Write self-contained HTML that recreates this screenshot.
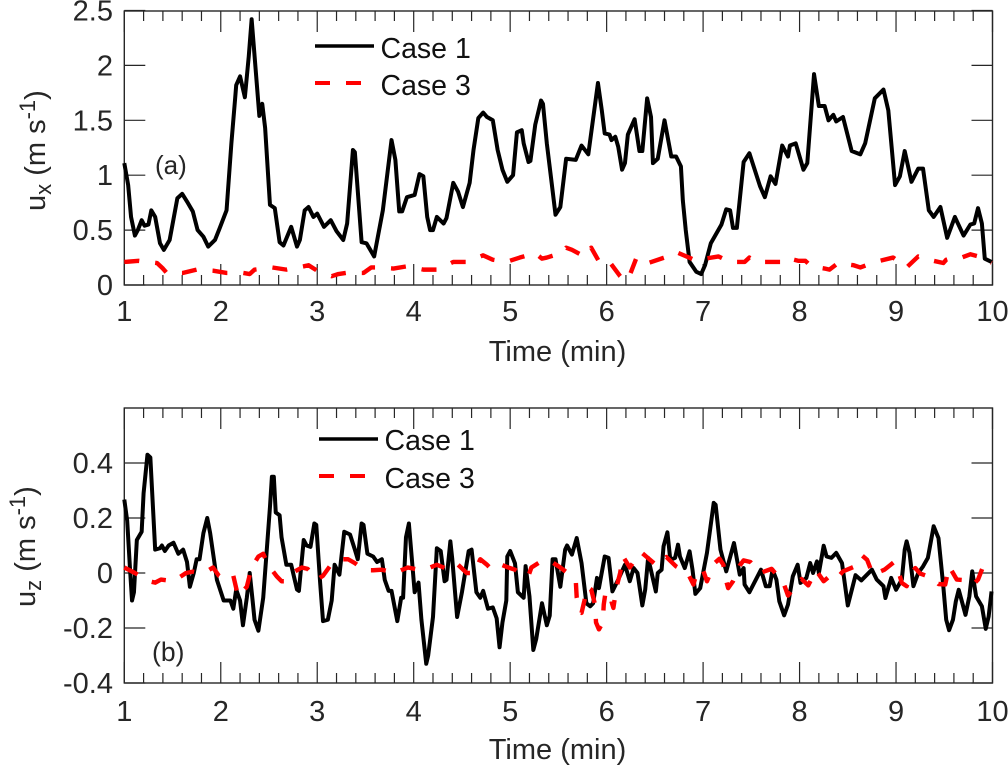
<!DOCTYPE html>
<html lang="en">
<head>
<meta charset="utf-8">
<title>Velocity time series</title>
<style>
html,body{margin:0;padding:0;background:#fff;}
svg{display:block;font-family:"Liberation Sans",Arial,sans-serif;}
text{fill:#262626;}
</style>
</head>
<body>
<svg id="chart" width="1008" height="766" viewBox="0 0 1008 766" xmlns="http://www.w3.org/2000/svg">
<g id="panelA"></g>
<g id="panelB"></g>

<text transform="translate(45,211) rotate(-90)" font-size="29">u<tspan font-size="22" dy="6">x</tspan><tspan dy="-6"> (m s</tspan><tspan font-size="22" dy="-10">-1</tspan><tspan dy="10">)</tspan></text>
<text x="557.5" y="361" font-size="29" text-anchor="middle">Time (min)</text>
<text x="155" y="174" font-size="26">(a)</text>
<line x1="315" x2="374" y1="46" y2="46" stroke="#000" stroke-width="3.5"/>
<text x="380.5" y="58" font-size="28.5" style="fill:#111">Case 1</text>
<line x1="315" x2="374" y1="83" y2="83" stroke="#f00" stroke-width="4" stroke-dasharray="15 16"/>
<text x="380.5" y="95" font-size="28.5" style="fill:#111">Case 3</text>

<text transform="translate(35,607) rotate(-90)" font-size="29">u<tspan font-size="22" dy="6">z</tspan><tspan dy="-6"> (m s</tspan><tspan font-size="22" dy="-10">-1</tspan><tspan dy="10">)</tspan></text>
<text x="557.5" y="759" font-size="29" text-anchor="middle">Time (min)</text>
<text x="152" y="661" font-size="26.5">(b)</text>
<line x1="319" x2="378" y1="439" y2="439" stroke="#000" stroke-width="3.5"/>
<text x="384.5" y="450" font-size="28.5" style="fill:#111">Case 1</text>
<line x1="319" x2="378" y1="476" y2="476" stroke="#f00" stroke-width="4" stroke-dasharray="15 16"/>
<text x="384.5" y="488" font-size="28.5" style="fill:#111">Case 3</text>
</svg>
<script>
const xMajorTicks = [1,2,3,4,5,6,7,8,9,10];
const yTicksA = [0,0.5,1,1.5,2,2.5];
const yTickLabelsA = ['0','0.5','1','1.5','2','2.5'];
const yTicksB = [-0.4,-0.2,0,0.2,0.4];
const yTickLabelsB = ['-0.4','-0.2','0','0.2','0.4'];

const timeA1 = [1.00,1.04,1.07,1.11,1.14,1.18,1.21,1.25,1.28,1.32,1.37,1.41,1.47,1.55,1.60,1.65,1.71,1.76,1.82,1.87,1.94,1.99,2.06,2.11,2.15,2.16,2.20,2.25,2.29,2.32,2.34,2.40,2.43,2.46,2.51,2.56,2.61,2.65,2.73,2.79,2.82,2.87,2.91,2.96,3.00,3.07,3.14,3.20,3.27,3.31,3.37,3.39,3.46,3.51,3.59,3.68,3.77,3.81,3.85,3.88,3.93,4.01,4.06,4.10,4.14,4.17,4.20,4.24,4.31,4.34,4.41,4.46,4.51,4.58,4.62,4.67,4.72,4.76,4.82,4.87,4.92,4.97,5.03,5.07,5.12,5.14,5.19,5.21,5.26,5.32,5.34,5.38,5.43,5.47,5.52,5.58,5.68,5.74,5.81,5.91,5.95,5.98,6.03,6.05,6.09,6.12,6.16,6.19,6.22,6.29,6.34,6.37,6.42,6.46,6.48,6.53,6.60,6.67,6.72,6.77,6.79,6.82,6.86,6.93,6.98,7.02,7.08,7.19,7.24,7.28,7.31,7.35,7.42,7.48,7.59,7.64,7.70,7.75,7.82,7.88,7.90,7.96,8.04,8.08,8.15,8.20,8.26,8.30,8.35,8.38,8.45,8.54,8.63,8.68,8.78,8.87,8.92,8.99,9.04,9.09,9.16,9.23,9.28,9.34,9.39,9.46,9.53,9.61,9.70,9.77,9.81,9.85,9.89,9.92,9.99];
const uxCase1 = [1.11,0.91,0.62,0.45,0.50,0.59,0.54,0.55,0.68,0.62,0.38,0.32,0.41,0.79,0.83,0.76,0.67,0.50,0.44,0.35,0.41,0.52,0.68,1.29,1.71,1.82,1.90,1.71,2.08,2.42,2.20,1.54,1.65,1.43,0.73,0.70,0.39,0.36,0.53,0.35,0.41,0.68,0.71,0.62,0.65,0.53,0.59,0.49,0.41,0.56,1.23,1.21,0.39,0.38,0.26,0.68,1.32,1.14,0.67,0.67,0.80,0.82,1.01,0.99,0.62,0.50,0.50,0.62,0.56,0.61,0.93,0.85,0.71,0.93,1.23,1.52,1.57,1.53,1.50,1.23,1.05,0.94,1.00,1.39,1.41,1.29,1.12,1.13,1.46,1.68,1.65,1.29,0.93,0.64,0.71,1.15,1.14,1.27,1.19,1.84,1.59,1.38,1.37,1.32,1.35,1.26,1.05,1.11,1.37,1.51,1.22,1.22,1.70,1.53,1.11,1.15,1.50,1.17,1.17,1.08,0.77,0.50,0.21,0.12,0.10,0.18,0.38,0.55,0.69,0.68,0.52,0.52,1.12,1.20,0.90,0.80,0.99,0.92,1.27,1.17,1.27,1.29,1.05,1.11,1.92,1.63,1.63,1.50,1.55,1.49,1.53,1.22,1.19,1.29,1.70,1.78,1.59,0.91,0.99,1.22,0.94,1.06,1.06,0.68,0.62,0.71,0.43,0.62,0.45,0.55,0.56,0.70,0.56,0.24,0.21];

const timeA3 = [1.00,1.15,1.34,1.40,1.44,1.61,1.75,1.92,2.06,2.23,2.30,2.35,2.53,2.68,2.86,2.91,3.00,3.15,3.22,3.30,3.48,3.56,3.62,3.79,3.93,4.10,4.25,4.41,4.55,4.72,4.82,4.96,5.10,5.26,5.33,5.38,5.53,5.58,5.64,5.77,5.84,5.93,6.03,6.14,6.19,6.24,6.31,6.43,6.60,6.72,6.88,6.93,7.02,7.16,7.28,7.43,7.48,7.55,7.71,7.80,7.85,7.99,8.06,8.12,8.26,8.31,8.40,8.56,8.63,8.69,8.83,8.97,9.11,9.23,9.39,9.49,9.52,9.63,9.68,9.77,9.90,9.99];
const uxCase3 = [0.21,0.22,0.20,0.15,0.11,0.11,0.14,0.13,0.11,0.11,0.10,0.14,0.16,0.14,0.17,0.18,0.13,0.08,0.10,0.11,0.11,0.16,0.16,0.15,0.17,0.14,0.14,0.21,0.21,0.27,0.23,0.21,0.25,0.29,0.24,0.25,0.29,0.34,0.32,0.26,0.34,0.20,0.21,0.08,0.04,0.09,0.25,0.20,0.25,0.30,0.24,0.22,0.24,0.26,0.21,0.21,0.25,0.21,0.21,0.21,0.25,0.22,0.22,0.17,0.15,0.14,0.20,0.18,0.16,0.18,0.22,0.25,0.16,0.26,0.22,0.20,0.23,0.26,0.25,0.28,0.25,0.20];

const timeB1 = [1.00,1.03,1.06,1.08,1.10,1.13,1.18,1.20,1.24,1.27,1.32,1.37,1.39,1.42,1.46,1.51,1.56,1.61,1.65,1.68,1.72,1.75,1.78,1.82,1.86,1.89,1.96,2.03,2.10,2.13,2.16,2.20,2.23,2.27,2.30,2.33,2.35,2.39,2.44,2.51,2.53,2.55,2.57,2.61,2.63,2.68,2.73,2.79,2.81,2.86,2.89,2.93,2.97,2.99,3.03,3.06,3.11,3.15,3.18,3.23,3.28,3.34,3.39,3.42,3.46,3.48,3.52,3.58,3.62,3.67,3.70,3.74,3.77,3.83,3.87,3.89,3.92,3.95,4.01,4.05,4.08,4.13,4.15,4.20,4.24,4.28,4.32,4.34,4.38,4.40,4.45,4.50,4.57,4.60,4.65,4.69,4.72,4.77,4.82,4.86,4.89,4.92,4.96,4.97,5.00,5.05,5.08,5.14,5.16,5.20,5.24,5.27,5.33,5.38,5.41,5.44,5.47,5.52,5.57,5.59,5.64,5.69,5.74,5.79,5.83,5.86,5.90,5.92,5.98,6.02,6.06,6.12,6.19,6.24,6.28,6.32,6.37,6.40,6.43,6.51,6.53,6.57,6.59,6.63,6.66,6.71,6.74,6.76,6.81,6.86,6.89,6.92,6.97,7.04,7.11,7.13,7.18,7.24,7.32,7.38,7.42,7.43,7.48,7.60,7.65,7.69,7.72,7.76,7.79,7.84,7.88,7.93,7.98,8.01,8.07,8.11,8.14,8.18,8.20,8.25,8.28,8.33,8.38,8.44,8.50,8.58,8.64,8.75,8.80,8.87,8.89,8.95,9.00,9.06,9.09,9.11,9.14,9.18,9.23,9.28,9.33,9.39,9.44,9.49,9.52,9.55,9.59,9.62,9.65,9.72,9.76,9.79,9.83,9.89,9.93,9.96,9.99];
const uzCase1 = [0.267,0.19,0.01,-0.10,-0.07,0.12,0.15,0.29,0.43,0.42,0.085,0.09,0.10,0.08,0.10,0.11,0.07,0.085,0.04,-0.05,0,0.05,0.05,0.145,0.20,0.145,-0.025,-0.10,-0.10,-0.13,-0.06,-0.10,-0.19,-0.09,0,-0.10,-0.17,-0.21,-0.09,0.24,0.35,0.35,0.22,0.21,0.13,0.03,0.03,-0.06,-0.065,0.12,0.10,0.095,0.18,0.175,-0.035,-0.175,-0.17,-0.10,0.03,-0.006,0.15,0.14,0.085,0.05,0.18,0.175,0.07,0.06,0.04,0.05,-0.025,-0.065,-0.065,-0.175,-0.09,-0.09,0.13,0.18,-0.07,-0.035,-0.17,-0.33,-0.30,-0.16,0.09,0.08,-0.03,-0.025,0.115,0.05,-0.16,-0.07,0.08,0.085,-0.07,-0.09,-0.065,-0.13,-0.125,-0.165,-0.27,-0.18,-0.10,0.06,0.08,0.035,-0.07,-0.09,0.025,-0.085,-0.28,-0.24,-0.11,-0.19,-0.155,0.05,0.05,-0.05,0.085,0.10,0.067,0.127,0.036,-0.11,-0.121,-0.11,-0.018,-0.055,0.06,0.055,-0.067,-0.024,0.03,-0.03,0.018,0,-0.118,-0.06,0.055,-0.067,0,0.012,0.097,0.148,0.048,0.055,0.103,0.06,0.018,0.079,0.012,-0.076,-0.055,0.073,0.255,0.248,0.085,0.006,0.109,-0.006,0.018,-0.042,-0.07,0.012,-0.048,-0.048,0.012,-0.024,-0.103,-0.154,-0.115,-0.012,0.03,-0.036,-0.018,0.036,0,0.042,0,0.099,0.06,0.055,0.073,0.036,-0.118,-0.008,-0.027,0.012,-0.024,-0.048,-0.091,-0.018,-0.061,-0.024,0.085,0.115,0.073,-0.048,0,0.024,0.055,0.17,0.127,-0.048,-0.17,-0.208,-0.17,-0.103,-0.061,-0.152,-0.085,0.006,-0.085,-0.121,-0.203,-0.158,-0.067];

const timeB3 = [1.00,1.11,1.26,1.32,1.38,1.51,1.64,1.71,1.78,1.85,1.92,1.98,2.04,2.13,2.18,2.27,2.32,2.39,2.44,2.49,2.58,2.63,2.68,2.77,2.84,2.90,3.00,3.06,3.13,3.24,3.32,3.39,3.49,3.58,3.67,3.81,3.87,3.94,4.08,4.17,4.24,4.38,4.42,4.46,4.55,4.63,4.69,4.76,4.81,4.91,4.98,5.05,5.15,5.19,5.22,5.31,5.41,5.52,5.58,5.68,5.69,5.72,5.74,5.77,5.80,5.84,5.88,5.89,5.92,5.96,5.97,5.99,6.03,6.07,6.10,6.14,6.17,6.24,6.30,6.36,6.41,6.52,6.62,6.72,6.84,6.90,6.94,7.00,7.04,7.12,7.17,7.21,7.24,7.26,7.31,7.38,7.42,7.49,7.59,7.71,7.83,7.88,7.98,8.02,8.09,8.17,8.25,8.33,8.39,8.45,8.56,8.61,8.65,8.70,8.76,8.88,8.98,9.04,9.06,9.11,9.16,9.20,9.25,9.38,9.44,9.51,9.55,9.63,9.74,9.80,9.85,9.91,10.0];
const uzCase3 = [0.02,0,-0.03,-0.035,-0.024,-0.03,0,0.005,0,0.005,0.02,-0.01,-0.024,-0.01,-0.085,-0.05,0.02,0.06,0.07,0.03,-0.012,-0.03,-0.03,0.006,0.02,0.015,-0.024,-0.01,0.024,0.05,0.05,0.036,0.01,0.01,0.012,0,0.01,0.02,0.01,0.02,0.03,0.01,0.02,0.03,0,0,0.05,0.03,0.012,0.03,0.02,0.012,-0.012,-0.01,0.02,0.04,0.045,0.02,0.004,-0.027,-0.09,-0.143,-0.145,-0.10,-0.05,-0.06,-0.115,-0.18,-0.205,-0.18,-0.115,-0.067,-0.08,-0.127,-0.055,0,0.06,0.02,0.05,0.075,0.06,0.027,0.058,0.024,0,-0.042,0.01,0.01,-0.03,0.036,0.052,0.03,-0.03,-0.055,-0.03,0.027,0.046,0.04,0,0.015,-0.033,-0.082,-0.036,-0.022,-0.045,0.01,-0.03,-0.006,-0.018,0.006,0.022,0.03,0.063,0.048,-0.006,0.012,0.04,-0.012,-0.036,-0.048,0,0.018,-0.002,-0.018,-0.04,-0.042,0.024,-0.024,-0.027,-0.042,-0.024,0.03,0.036];

const NS = 'http://www.w3.org/2000/svg';
const plotLeft = 124.3, plotRight = 992.5;
const xScale = t => plotLeft + (t - 1) * (plotRight - plotLeft) / 9;
const yScaleA = v => 285 - v * 109.8;
const yScaleB = v => 573 - v * 275;

function mk(parent, tag, attrs) {
  const el = document.createElementNS(NS, tag);
  for (const k in attrs) el.setAttribute(k, attrs[k]);
  parent.appendChild(el);
  return el;
}

function linePath(ts, vs, yScale) {
  return ts.map((t, i) => (i ? 'L' : 'M') + xScale(t).toFixed(2) + ' ' + yScale(vs[i]).toFixed(2)).join('');
}

function drawAxes(g, top, bottom, yTicks, yLabels, yScale, tickBaseline) {
  const minorColor = '#262626';
  for (let i = 0; i <= 45; i++) {
    const t = 1 + i * 0.2;
    const major = i % 5 === 0;
    const len = major ? 21 : 10;
    const x = xScale(t);
    const tickBottom = mk(g, 'line', {x1: x, x2: x, y1: bottom, y2: bottom - len, stroke: minorColor, 'stroke-width': 1.2});
    
    
    const tickTop = mk(g, 'line', {x1: x, x2: x, y1: top, y2: top + len, stroke: minorColor, 'stroke-width': 1.2});
    
    
  }
  xMajorTicks.forEach(t => {
    const label = mk(g, 'text', {x: xScale(t), y: tickBaseline, 'font-size': 29, 'text-anchor': 'middle'});
    label.textContent = String(t);
    
    
  });
  yTicks.forEach((v, i) => {
    const y = yScale(v);
    const tickLeft = mk(g, 'line', {x1: plotLeft, x2: plotLeft + 21, y1: y, y2: y, stroke: minorColor, 'stroke-width': 1.2});
    
    
    const tickRight = mk(g, 'line', {x1: plotRight, x2: plotRight - 21, y1: y, y2: y, stroke: minorColor, 'stroke-width': 1.2});
    
    
    const label = mk(g, 'text', {x: 113, y: y + 10, 'font-size': 29, 'text-anchor': 'end'});
    label.textContent = yLabels[i];
    
    
  });
  const frame = mk(g, 'rect', {x: plotLeft, y: top, width: plotRight - plotLeft, height: bottom - top, fill: 'none', stroke: minorColor, 'stroke-width': 1.4});
  
  
}

function drawSeries(g, ts, vs, yScale, color, width, dash) {
  const attrs = {d: linePath(ts, vs, yScale), fill: 'none', stroke: color, 'stroke-width': width, 'stroke-linejoin': 'round'};
  if (dash) attrs['stroke-dasharray'] = dash;
  return mk(g, 'path', attrs);
}

const gA = document.getElementById('panelA');
const gB = document.getElementById('panelB');
drawAxes(gA, 11, 285, yTicksA, yTickLabelsA, yScaleA, 321);
drawAxes(gB, 408, 683, yTicksB, yTickLabelsB, yScaleB, 721);

const a1 = drawSeries(gA, timeA1, uxCase1, yScaleA, '#000', 4);


const a3 = drawSeries(gA, timeA3, uxCase3, yScaleA, '#f00', 4.4, '15 16');


const b1 = drawSeries(gB, timeB1, uzCase1, yScaleB, '#000', 4);


const b3 = drawSeries(gB, timeB3, uzCase3, yScaleB, '#f00', 4.4, '15 16');


</script>
</body>
</html>
